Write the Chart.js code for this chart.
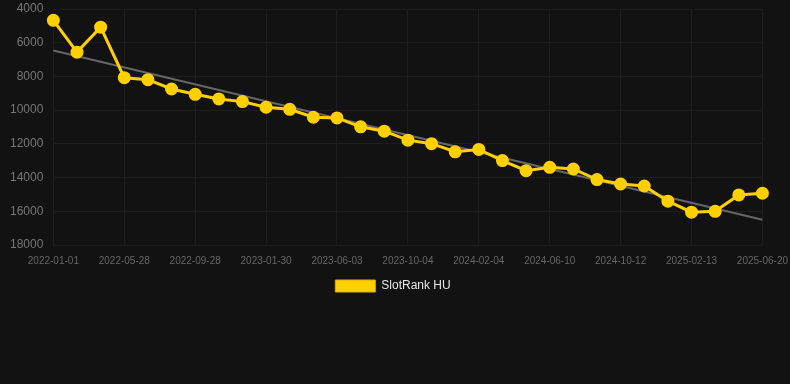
<!DOCTYPE html>
<html>
<head>
<meta charset="utf-8">
<script src="https://cdn.jsdelivr.net/npm/chart.js@4/dist/chart.umd.min.js"></script>
<style>
html,body{margin:0;padding:0;background:#121212;}
#wrap{position:relative;width:790px;height:302px;}
</style>
</head>
<body>
<div id="wrap"><canvas id="c"></canvas></div>
<script>
const categories = [
  "2022-01-01","2022-02-19","2022-04-09","2022-05-28","2022-07-08","2022-08-18",
  "2022-09-28","2022-11-08","2022-12-19","2023-01-30","2023-03-12","2023-04-22",
  "2023-06-03","2023-07-14","2023-08-24","2023-10-04","2023-11-14","2023-12-25",
  "2024-02-04","2024-03-16","2024-04-28","2024-06-10","2024-07-21","2024-09-01",
  "2024-10-12","2024-11-23","2025-01-03","2025-02-13","2025-03-26","2025-05-09",
  "2025-06-20"
];
const rankValues = [
  4670, 6560, 5080, 8076, 8194, 8745, 9060, 9336, 9494, 9830,
  9950, 10420, 10460, 10990, 11250, 11780, 11990, 12470, 12330, 12990,
  13590, 13390, 13490, 14120, 14380, 14500, 15400, 16050, 16000, 15030,
  14930
];
const trendValues = categories.map(() => null);
trendValues[0] = 6463;
trendValues[trendValues.length - 1] = 16505;
const yTicks = [4000, 6000, 8000, 10000, 12000, 14000, 16000, 18000];
const seriesName = "SlotRank HU";

const legendShift = {
  id: 'legendShift',
  afterLayout(chart) {
    if (chart.legend) { chart.legend.left -= 5; chart.legend.right -= 5; }
  }
};

new Chart(document.getElementById('c'), {
  type: 'line',
  plugins: [legendShift],
  data: {
    labels: categories,
    datasets: [
      {
        label: seriesName,
        data: rankValues,
        borderColor: '#FFD000',
        backgroundColor: '#FFD000',
        borderWidth: 3,
        pointRadius: 5,
        pointHoverRadius: 6,
        pointBackgroundColor: '#FFD000',
        pointBorderColor: '#FFD000',
        tension: 0,
        order: 1
      },
      {
        label: 'trend',
        data: trendValues,
        borderColor: '#666666',
        borderWidth: 2,
        pointRadius: 0,
        spanGaps: true,
        fill: false,
        order: 2
      }
    ]
  },
  options: {
    responsive: true,
    maintainAspectRatio: false,
    animation: false,
    layout: { padding: { left: 10, right: 4, top: 0 } },
    plugins: {
      legend: {
        position: 'bottom',
        labels: {
          boxWidth: 40,
          boxHeight: 12,
          padding: 11,
          color: '#e6e6e6',
          font: { family: 'Liberation Sans, Arial, sans-serif', size: 12 },
          filter: (item) => item.text === seriesName,
          generateLabels: (chart) => Chart.defaults.plugins.legend.labels.generateLabels(chart)
            .map(it => Object.assign(it, { lineWidth: 1, strokeStyle: '#d9b000' }))
        }
      },
      tooltip: { enabled: false }
    },
    scales: {
      x: {
        grid: { color: '#1d1d1d', drawTicks: true, tickLength: 8, tickColor: 'rgba(0,0,0,0)' },
        border: { display: false },
        ticks: {
          autoSkip: true,
          maxTicksLimit: 11,
          maxRotation: 0,
          minRotation: 0,
          padding: 2,
          color: '#666666',
          font: { family: 'Liberation Sans, Arial, sans-serif', size: 10 }
        }
      },
      y: {
        reverse: true,
        min: 4000,
        max: 18000,
        afterBuildTicks: (axis) => { axis.ticks = yTicks.map(v => ({ value: v })); },
        afterFit: (axis) => { axis.paddingTop = 6; },
        grid: { color: '#1d1d1d', drawTicks: true, tickLength: 10, tickColor: 'rgba(0,0,0,0)' },
        border: { display: false },
        ticks: {
          padding: 0,
          color: '#777777',
          font: { family: 'Liberation Sans, Arial, sans-serif', size: 12 },
          callback: (v) => String(v)
        }
      }
    }
  }
});
</script>
</body>
</html>
